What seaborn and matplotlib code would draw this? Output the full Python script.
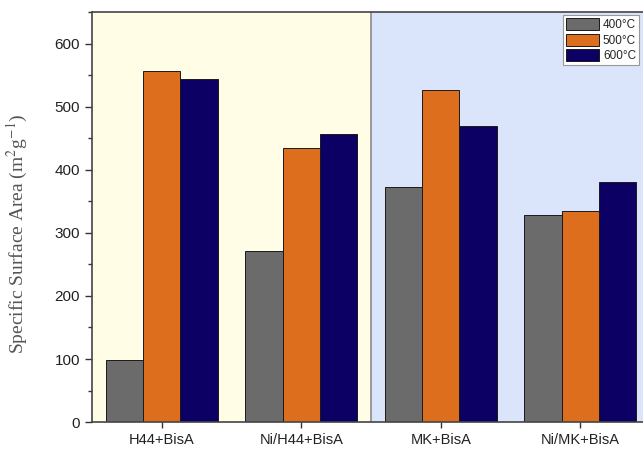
import matplotlib
matplotlib.use("Agg")
import matplotlib.pyplot as plt
from matplotlib.ticker import MultipleLocator
import seaborn as sns
import pandas as pd

# Samples and calcination temperatures
samples = ["H44+BisA", "Ni/H44+BisA", "MK+BisA", "Ni/MK+BisA"]
temperatures = ["400°C", "500°C", "600°C"]

# Specific surface area (m2/g) per sample, one list per temperature
area_400 = [98, 272, 373, 329]
area_500 = [557, 434, 527, 334]
area_600 = [544, 457, 470, 381]

bar_colors = ["#6b6b6b", "#dc6e1e", "#0c0064"]

rows = []
for temp, vals in zip(temperatures, [area_400, area_500, area_600]):
    for s, v in zip(samples, vals):
        rows.append({"sample": s, "temp": temp, "area": v})
df = pd.DataFrame(rows)

sns.set_theme(style="white")
plt.rcParams["font.family"] = ["Liberation Sans", "DejaVu Sans"]
plt.rcParams["mathtext.fontset"] = "stix"

fig = plt.figure(figsize=(6.43, 4.5), dpi=100)
ax = fig.add_axes([0.143, 0.062, 0.857, 0.911])

# Shaded backgrounds for the two support families
ax.axvspan(-0.5, 1.5, color="#fffde6", zorder=0, lw=0)
ax.axvspan(1.5, 3.6, color="#dae4fa", zorder=0, lw=0)
ax.axvline(1.5, color="#8a8a8a", lw=1.2, zorder=0.5)

sns.barplot(data=df, x="sample", y="area", hue="temp", order=samples,
            hue_order=temperatures, palette=bar_colors, saturation=1,
            width=0.8, edgecolor="#1a1a1a", linewidth=0.7, ax=ax, zorder=2)

ax.set_xlim(-0.5, 3.45)
ax.set_ylim(0, 650)
ax.yaxis.set_major_locator(MultipleLocator(100))
ax.yaxis.set_minor_locator(MultipleLocator(50))
ax.tick_params(axis="y", which="major", direction="out", length=5, width=1,
               color="#333333", labelsize=11, labelcolor="#222222", left=True)
ax.tick_params(axis="y", which="minor", direction="out", length=3, width=1,
               color="#333333", left=True)
ax.tick_params(axis="x", direction="out", length=4, width=1, color="#333333",
               labelsize=10.5, labelcolor="#222222", bottom=True)

for side in ["left", "bottom", "top"]:
    ax.spines[side].set_visible(True)
    ax.spines[side].set_color("#444444")
    ax.spines[side].set_linewidth(1.2)
ax.spines["right"].set_visible(False)

ax.set_xlabel("")
ax.set_ylabel("Specific Surface Area (m$^{2}$g$^{-1}$)", family="Liberation Serif",
              fontsize=14, color="#555555")
ax.yaxis.set_label_coords(-0.112, 0.46)

handles, labels = ax.get_legend_handles_labels()
leg = ax.legend(handles, labels, loc="upper right", bbox_to_anchor=(0.997, 0.998),
                fontsize=8.5, frameon=True, fancybox=False, edgecolor="#999999",
                framealpha=1, handlelength=2.8, handleheight=1.2,
                handletextpad=0.3, borderpad=0.25, labelspacing=0.2,
                borderaxespad=0.2)
leg.get_frame().set_linewidth(0.8)

fig.savefig("out.png", dpi=100)
